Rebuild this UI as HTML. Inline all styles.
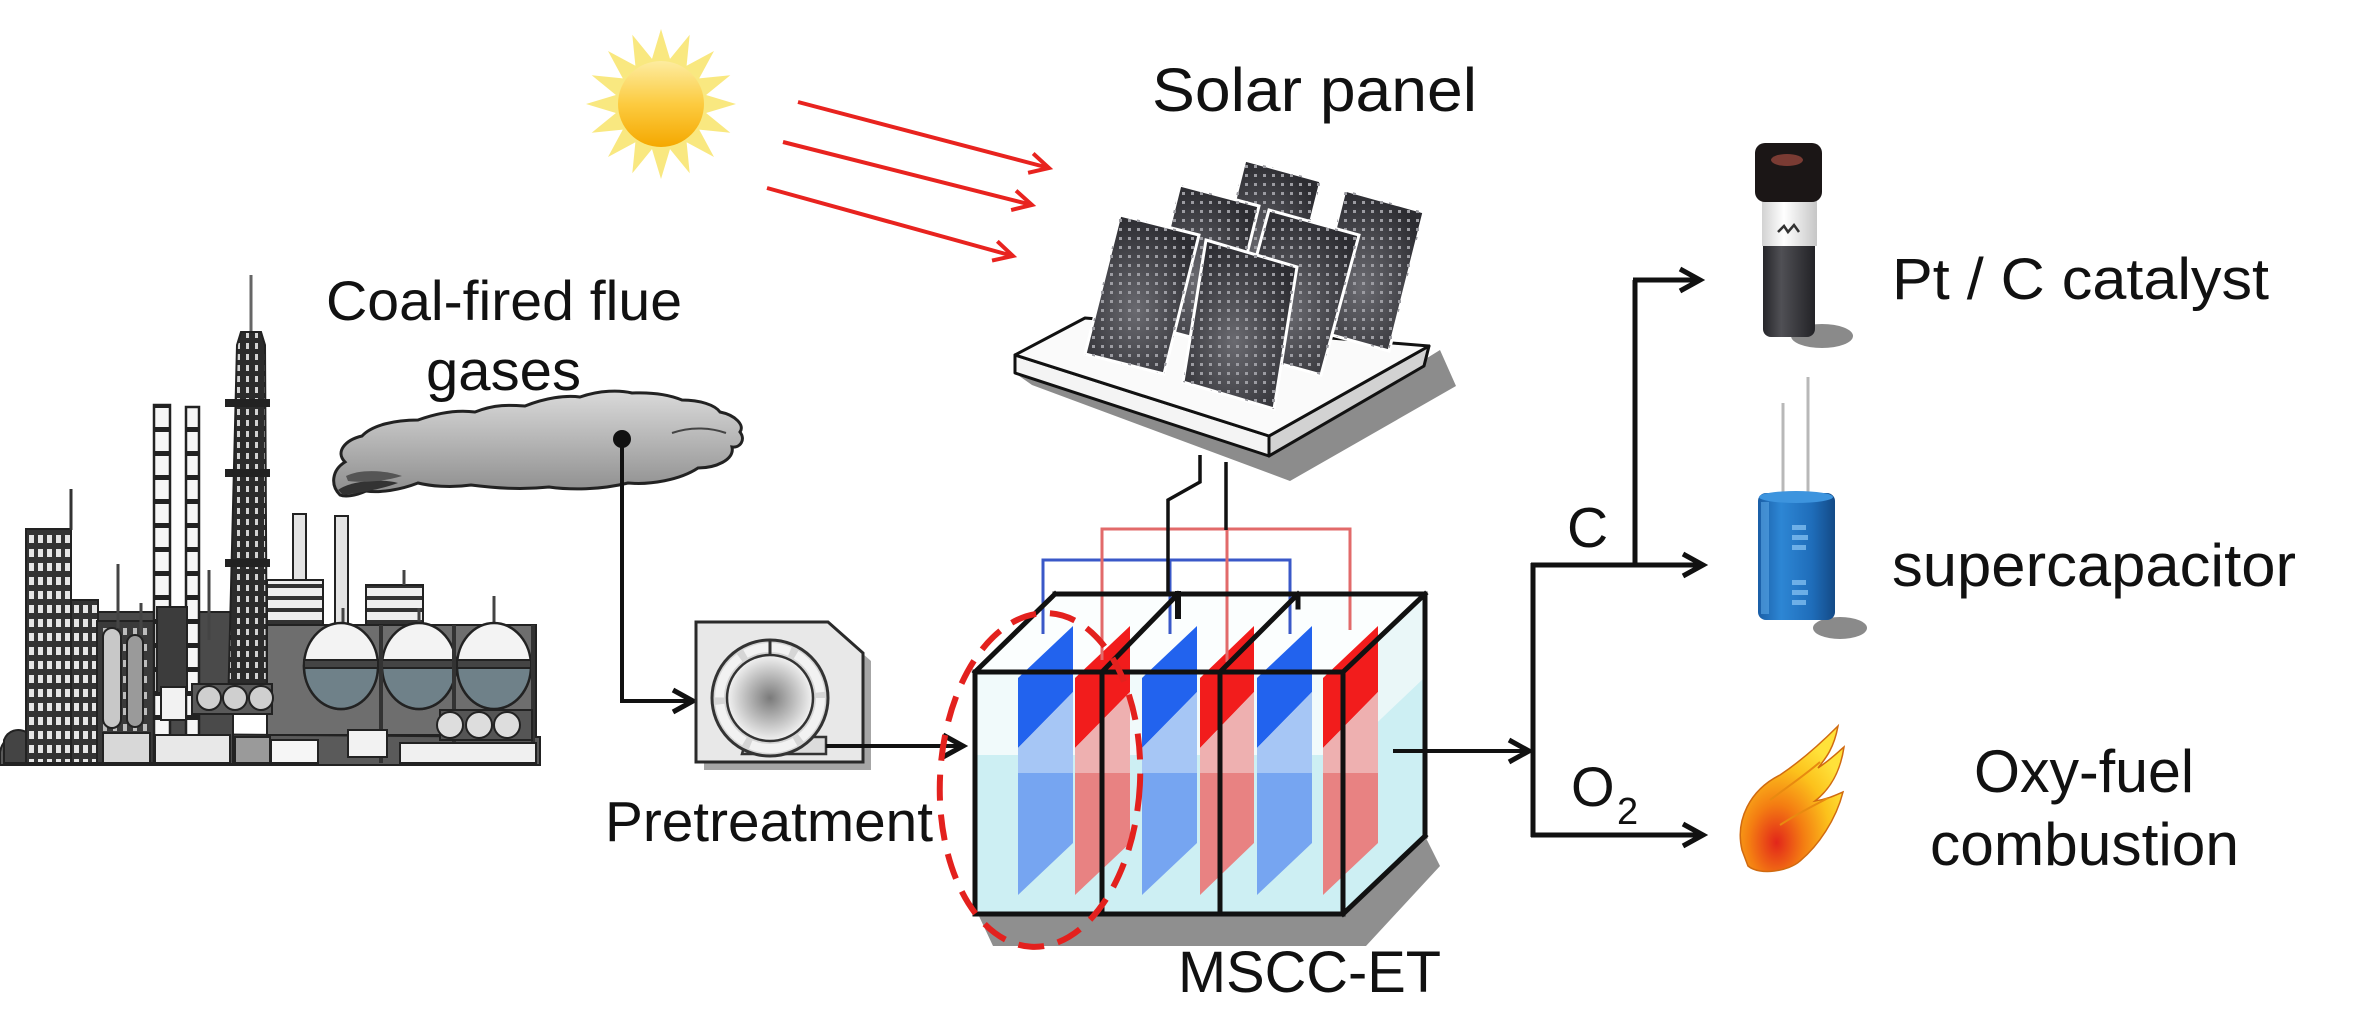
<!DOCTYPE html>
<html><head><meta charset="utf-8"><style>
html,body{margin:0;padding:0;background:#fff;}
svg{display:block;}
text{font-family:"Liberation Sans",Arial,sans-serif;fill:#111;}
</style></head><body>
<svg width="2361" height="1025" viewBox="0 0 2361 1025" xmlns="http://www.w3.org/2000/svg">
<defs>
  <marker id="arB" markerUnits="userSpaceOnUse" markerWidth="30" markerHeight="30" viewBox="0 0 30 30" refX="24" refY="15" orient="auto">
    <path d="M4,4 L24,15 L4,26" fill="none" stroke="#111" stroke-width="5"/>
  </marker>
  <marker id="arR" markerUnits="userSpaceOnUse" markerWidth="30" markerHeight="30" viewBox="0 0 30 30" refX="24" refY="15" orient="auto">
    <path d="M5,5 L24,15 L5,25" fill="none" stroke="#e8231f" stroke-width="4"/>
  </marker>
  <linearGradient id="sunG" x1="0" y1="0" x2="0" y2="1">
    <stop offset="0" stop-color="#fdeca0"/><stop offset="0.5" stop-color="#fccb40"/><stop offset="1" stop-color="#f5a800"/>
  </linearGradient>
  <linearGradient id="cloudG" x1="0" y1="0" x2="0" y2="1">
    <stop offset="0" stop-color="#dadada"/><stop offset="1" stop-color="#8c8c8c"/>
  </linearGradient>
  <radialGradient id="pumpG" cx="0.5" cy="0.5" r="0.5">
    <stop offset="0" stop-color="#7a7a7a"/><stop offset="1" stop-color="#f2f2f2"/>
  </radialGradient>
  <radialGradient id="panelG" cx="0.45" cy="0.6" r="0.6">
    <stop offset="0" stop-color="#6a6a70"/><stop offset="1" stop-color="#2c2c31"/>
  </radialGradient>
  <pattern id="pdots" width="9" height="9" patternUnits="userSpaceOnUse">
    <rect x="3" y="3" width="3" height="3" fill="#9c9ca2"/>
  </pattern>
  <pattern id="win" width="9" height="14" patternUnits="userSpaceOnUse">
    <rect width="9" height="14" fill="#343434"/><rect x="2" y="3" width="5" height="8" fill="#e6e6e6"/>
  </pattern>
  <pattern id="win2" width="10" height="16" patternUnits="userSpaceOnUse">
    <rect width="10" height="16" fill="#3a3a3a"/><rect x="3" y="4" width="4" height="7" fill="#bdbdbd"/>
  </pattern>
  <pattern id="dash" width="9" height="11" patternUnits="userSpaceOnUse">
    <rect width="9" height="11" fill="#2c2c2c"/><rect x="3" y="2" width="3" height="6" fill="#d4d4d4"/>
  </pattern>
  <pattern id="band" width="20" height="24" patternUnits="userSpaceOnUse">
    <rect width="20" height="24" fill="#f6f6f6"/><rect y="19" width="20" height="5" fill="#222"/>
  </pattern>
  <pattern id="band2" width="20" height="12" patternUnits="userSpaceOnUse">
    <rect width="20" height="12" fill="#efefef"/><rect y="8" width="20" height="4" fill="#333"/>
  </pattern>
  <linearGradient id="vialP" x1="0" y1="0" x2="1" y2="0">
    <stop offset="0" stop-color="#26262a"/><stop offset="0.35" stop-color="#505055"/><stop offset="1" stop-color="#222226"/>
  </linearGradient>
  <linearGradient id="vialG" x1="0" y1="0" x2="1" y2="0">
    <stop offset="0" stop-color="#d2d2d2"/><stop offset="0.4" stop-color="#ffffff"/><stop offset="1" stop-color="#c6c6c6"/>
  </linearGradient>
  <linearGradient id="capG" x1="0" y1="0" x2="1" y2="0">
    <stop offset="0" stop-color="#1a5ea6"/><stop offset="0.3" stop-color="#2d86d4"/><stop offset="0.7" stop-color="#1f6dba"/><stop offset="1" stop-color="#134a86"/>
  </linearGradient>
  <radialGradient id="flameG" cx="0.35" cy="0.8" r="0.75">
    <stop offset="0" stop-color="#e2261a"/><stop offset="0.35" stop-color="#f47d12"/><stop offset="0.7" stop-color="#fcc21c"/><stop offset="1" stop-color="#ffe23a"/>
  </radialGradient>
</defs>

<!-- ===== SUN ===== -->
<g transform="translate(661,104)">
  <polygon fill="#f8e46a" opacity="0.85" points="75,0 45.1,9 69.3,28.7 38.2,25.6 53,53 25.6,38.2 28.7,69.3 9,45.1 0,75 -9,45.1 -28.7,69.3 -25.6,38.2 -53,53 -38.2,25.6 -69.3,28.7 -45.1,9 -75,0 -45.1,-9 -69.3,-28.7 -38.2,-25.6 -53,-53 -25.6,-38.2 -28.7,-69.3 -9,-45.1 0,-75 9,-45.1 28.7,-69.3 25.6,-38.2 53,-53 38.2,-25.6 69.3,-28.7 45.1,-9"/>
  <circle r="43" fill="url(#sunG)"/>
</g>

<!-- ===== SUN RAYS ===== -->
<line x1="798" y1="102" x2="1049" y2="168" stroke="#e8231f" stroke-width="4" marker-end="url(#arR)"/>
<line x1="783" y1="142" x2="1032" y2="205" stroke="#e8231f" stroke-width="4" marker-end="url(#arR)"/>
<line x1="767" y1="188" x2="1013" y2="256" stroke="#e8231f" stroke-width="4" marker-end="url(#arR)"/>

<!-- ===== SOLAR PANEL ===== -->
<text x="1152" y="111" font-size="61" textLength="325" lengthAdjust="spacingAndGlyphs">Solar panel</text>
<polygon points="1032,385 1290,481 1456,386 1440,350 1269,456 1015,373" fill="#8c8c8c"/>
<polygon points="1015,355 1269,436 1269,456 1015,373" fill="#f4f4f4" stroke="#111" stroke-width="3" stroke-linejoin="round"/>
<polygon points="1269,436 1429,346 1424,366 1269,456" fill="#d2d2d2" stroke="#111" stroke-width="3" stroke-linejoin="round"/>
<polygon points="1015,355 1085,318 1429,346 1269,436" fill="#fafafa" stroke="#111" stroke-width="3" stroke-linejoin="round"/>
<g stroke="#fff" stroke-width="3">
  <polygon points="1245,160 1321,181 1286,320 1210,299" fill="url(#panelG)"/>
  <polygon points="1245,160 1321,181 1286,320 1210,299" fill="url(#pdots)" stroke="none"/>
  <polygon points="1345,190 1424,212 1389,351 1310,329" fill="url(#panelG)"/>
  <polygon points="1345,190 1424,212 1389,351 1310,329" fill="url(#pdots)" stroke="none"/>
  <polygon points="1180,185 1259,206 1224,346 1145,325" fill="url(#panelG)"/>
  <polygon points="1180,185 1259,206 1224,346 1145,325" fill="url(#pdots)" stroke="none"/>
  <polygon points="1269,210 1359,235 1321,375 1231,350" fill="url(#panelG)"/>
  <polygon points="1269,210 1359,235 1321,375 1231,350" fill="url(#pdots)" stroke="none"/>
  <polygon points="1120,215 1199,235 1164,374 1085,354" fill="url(#panelG)"/>
  <polygon points="1120,215 1199,235 1164,374 1085,354" fill="url(#pdots)" stroke="none"/>
  <polygon points="1206,240 1297,267 1274,409 1183,382" fill="url(#panelG)"/>
  <polygon points="1206,240 1297,267 1274,409 1183,382" fill="url(#pdots)" stroke="none"/>
</g>

<!-- ===== COAL-FIRED TEXT + CLOUD ===== -->
<text x="326" y="320" font-size="56" textLength="356" lengthAdjust="spacingAndGlyphs">Coal-fired flue</text>
<text x="426" y="390" font-size="57" textLength="155" lengthAdjust="spacingAndGlyphs">gases</text>
<path d="M340,495 C330,485 332,470 345,462 C335,452 345,440 362,436 C372,425 395,420 418,420 C440,412 460,410 475,412 C495,404 510,405 525,406 C545,398 565,395 580,397 C600,390 620,390 632,393 C655,392 670,395 682,400 C700,400 715,405 720,412 C735,415 745,425 740,432 C746,440 740,448 732,447 C735,460 715,468 698,468 C680,480 650,485 628,483 C600,490 570,490 549,487 C520,490 495,488 471,485 C450,488 430,486 418,483 C400,490 380,493 366,491 C355,496 345,497 340,495 Z" fill="url(#cloudG)" stroke="#222" stroke-width="3"/>
<path d="M338,490 C350,481 380,478 398,483 C382,489 360,493 343,495 Z" fill="#333"/>
<path d="M346,476 C360,469 385,470 402,476 C386,481 365,483 348,481 Z" fill="#555"/>
<path d="M672,433 C692,426 712,428 726,433" fill="none" stroke="#444" stroke-width="2"/>
<circle cx="622" cy="439" r="9" fill="#111"/>
<path d="M622,439 L622,701 L693,701" fill="none" stroke="#111" stroke-width="4" marker-end="url(#arB)"/>

<!-- ===== FACTORY ===== -->
<g stroke="#222" stroke-width="2">
  <path d="M0,752 C2,740 12,733 25,733 L540,737 L540,765 L0,765 Z" fill="#5a5a5a"/>
  <!-- dark background mass -->
  <rect x="68" y="612" width="165" height="152" fill="#4a4a4a"/>
  <rect x="26" y="529" width="45" height="234" fill="url(#win)"/>
  <line x1="71" y1="489" x2="71" y2="530" stroke="#333" stroke-width="3"/>
  <rect x="71" y="600" width="27" height="163" fill="url(#win)"/>
  <rect x="97" y="621" width="62" height="142" fill="url(#win2)"/>
  <rect x="103" y="628" width="18" height="100" rx="9" fill="#c8c8c8"/>
  <rect x="127" y="635" width="16" height="92" rx="8" fill="#9a9a9a"/>
  <line x1="118" y1="564" x2="118" y2="628" stroke="#444" stroke-width="3"/>
  <line x1="141" y1="603" x2="141" y2="635" stroke="#444" stroke-width="3"/>
  <rect x="103" y="733" width="47" height="30" fill="#d8d8d8"/>
  <rect x="154" y="405" width="16" height="358" fill="url(#band)" stroke-width="2.5"/>
  <rect x="186" y="407" width="13" height="356" fill="url(#band)" stroke-width="2.5"/>
  <line x1="209" y1="570" x2="209" y2="640" stroke="#444" stroke-width="3"/>
  <rect x="157" y="607" width="30" height="86" fill="#3c3c3c"/>
  <rect x="161" y="687" width="25" height="33" fill="#f2f2f2"/>
  <line x1="251" y1="275" x2="251" y2="333" stroke="#666" stroke-width="3"/>
  <path d="M237,345 L241,332 L261,332 L265,345 L267,710 L228,710 Z" fill="url(#dash)"/>
  <rect x="226" y="400" width="43" height="6" fill="#222"/>
  <rect x="226" y="470" width="43" height="6" fill="#222"/>
  <rect x="226" y="560" width="43" height="6" fill="#222"/>
  <rect x="293" y="514" width="13" height="70" fill="#e4e4e4"/>
  <rect x="335" y="516" width="13" height="113" fill="#e4e4e4"/>
  <rect x="267" y="580" width="56" height="45" fill="url(#band2)"/>
  <rect x="366" y="585" width="57" height="42" fill="url(#band2)"/>
  <line x1="404" y1="570" x2="404" y2="585" stroke="#444" stroke-width="3"/>
  <rect x="267" y="625" width="269" height="110" fill="#6e6e6e"/>
  <rect x="192" y="684" width="80" height="30" fill="#5a5a5a"/>
  <circle cx="209" cy="698" r="12" fill="#cfcfcf"/>
  <circle cx="235" cy="698" r="12" fill="#cfcfcf"/>
  <circle cx="261" cy="698" r="12" fill="#cfcfcf"/>
  <line x1="343" y1="608" x2="343" y2="622" stroke="#444" stroke-width="3"/>
  <line x1="419" y1="608" x2="419" y2="622" stroke="#444" stroke-width="3"/>
  <line x1="494" y1="596" x2="494" y2="622" stroke="#444" stroke-width="3"/>
  <ellipse cx="341" cy="666" rx="37" ry="43" fill="#f3f3f3" stroke-width="2.5"/>
  <path d="M304,666 A37,43 0 0 0 378,666 Z" fill="#6f8189" stroke-width="2.5"/>
  <rect x="304" y="660" width="74" height="8" fill="#444"/>
  <ellipse cx="419" cy="666" rx="37" ry="43" fill="#f3f3f3" stroke-width="2.5"/>
  <path d="M382,666 A37,43 0 0 0 456,666 Z" fill="#6f8189" stroke-width="2.5"/>
  <rect x="382" y="660" width="74" height="8" fill="#444"/>
  <ellipse cx="494" cy="666" rx="37" ry="43" fill="#f3f3f3" stroke-width="2.5"/>
  <path d="M457,666 A37,43 0 0 0 531,666 Z" fill="#6f8189" stroke-width="2.5"/>
  <rect x="457" y="660" width="74" height="8" fill="#444"/>
  <line x1="381" y1="625" x2="381" y2="763" stroke="#333" stroke-width="4"/>
  <line x1="454" y1="625" x2="454" y2="763" stroke="#333" stroke-width="4"/>
  <line x1="533" y1="625" x2="533" y2="763" stroke="#333" stroke-width="4"/>
  <rect x="440" y="710" width="92" height="30" fill="#555"/>
  <circle cx="450" cy="725" r="13" fill="#ddd"/>
  <circle cx="479" cy="725" r="13" fill="#ddd"/>
  <circle cx="507" cy="725" r="13" fill="#ddd"/>
  <rect x="155" y="735" width="75" height="28" fill="#e8e8e8"/>
  <rect x="235" y="737" width="35" height="26" fill="#9a9a9a"/>
  <rect x="271" y="740" width="47" height="23" fill="#f6f6f6"/>
  <rect x="348" y="730" width="39" height="27" fill="#f2f2f2"/>
  <rect x="400" y="743" width="136" height="20" fill="#f0f0f0"/>
  <path d="M4,763 L4,740 C8,730 18,728 26,732 L26,763 Z" fill="#444"/>
</g>

<!-- ===== PRETREATMENT ===== -->
<path d="M704,630 L836,630 L871,661 L871,770 L704,770 Z" fill="#a6a6a6"/>
<path d="M696,622 L828,622 L863,653 L863,762 L696,762 Z" fill="#e8e8e8" stroke="#2a2a2a" stroke-width="3"/>
<path d="M747,737 L826,737 L826,754 L742,754 Z" fill="#dcdcdc" stroke="#333" stroke-width="2.5"/>
<circle cx="770" cy="698" r="58" fill="#d6d6d6" stroke="#333" stroke-width="3"/>
<circle cx="770" cy="698" r="50.5" fill="none" stroke="#f2f2f2" stroke-width="9" stroke-dasharray="46 7"/>
<circle cx="770" cy="698" r="43" fill="url(#pumpG)" stroke="#333" stroke-width="2.5"/>
<line x1="770" y1="640" x2="770" y2="655" stroke="#333" stroke-width="3"/>
<line x1="826" y1="746" x2="963" y2="746" stroke="#111" stroke-width="4" marker-end="url(#arB)"/>
<text x="605" y="841" font-size="57" textLength="328" lengthAdjust="spacingAndGlyphs">Pretreatment</text>

<!-- ===== TANK ===== -->
<polygon points="993,946 1366,946 1440,866 1425,836 1343,914 978,914" fill="#8f8f8f"/>
<polygon points="975,672 1055,594 1425,594 1343,672" fill="#fbfefe"/>
<rect x="975" y="672" width="368" height="84" fill="#f1fafb"/>
<polygon points="1343,672 1425,594 1425,677 1343,755" fill="#eaf7f8"/>
<polygon points="975,755 1343,755 1425,677 1425,836 1343,914 975,914" fill="#cdeff3"/>

<!-- plates -->
<g>
  <polygon points="1018,678 1073,626 1073,692 1018,748" fill="#2263ee"/>
  <polygon points="1018,748 1073,692 1073,773 1018,773" fill="#a6c6f5"/>
  <polygon points="1018,773 1073,773 1073,843 1018,895" fill="#76a5f1"/>
  <polygon points="1075,678 1130,626 1130,692 1075,748" fill="#f21c1c"/>
  <polygon points="1075,748 1130,692 1130,773 1075,773" fill="#eeb0b0"/>
  <polygon points="1075,773 1130,773 1130,843 1075,895" fill="#e88282"/>
  <polygon points="1142,678 1197,626 1197,692 1142,748" fill="#2263ee"/>
  <polygon points="1142,748 1197,692 1197,773 1142,773" fill="#a6c6f5"/>
  <polygon points="1142,773 1197,773 1197,843 1142,895" fill="#76a5f1"/>
  <polygon points="1200,678 1254,626 1254,692 1200,748" fill="#f21c1c"/>
  <polygon points="1200,748 1254,692 1254,773 1200,773" fill="#eeb0b0"/>
  <polygon points="1200,773 1254,773 1254,843 1200,895" fill="#e88282"/>
  <polygon points="1257,678 1312,626 1312,692 1257,748" fill="#2263ee"/>
  <polygon points="1257,748 1312,692 1312,773 1257,773" fill="#a6c6f5"/>
  <polygon points="1257,773 1312,773 1312,843 1257,895" fill="#76a5f1"/>
  <polygon points="1323,678 1378,626 1378,692 1323,748" fill="#f21c1c"/>
  <polygon points="1323,748 1378,692 1378,773 1323,773" fill="#eeb0b0"/>
  <polygon points="1323,773 1378,773 1378,843 1323,895" fill="#e88282"/>
</g>

<!-- wires -->
<path d="M1043,634 L1043,560 L1290,560 L1290,634" fill="none" stroke="#3a58c8" stroke-width="3"/>
<path d="M1170,560 L1170,634" fill="none" stroke="#3a58c8" stroke-width="3"/>
<path d="M1102,660 L1102,529 L1350,529 L1350,630" fill="none" stroke="#e26a6a" stroke-width="3"/>
<path d="M1227,529 L1227,662" fill="none" stroke="#e26a6a" stroke-width="3"/>
<path d="M1200,455 L1200,482 L1168,500 L1168,594" fill="none" stroke="#111" stroke-width="3.5"/>
<path d="M1226,462 L1226,530" fill="none" stroke="#111" stroke-width="3.5"/>

<!-- frame -->
<g fill="none" stroke="#111" stroke-width="5" stroke-linecap="square" stroke-linejoin="miter">
  <path d="M975,672 H1343 V914 H975 Z"/>
  <path d="M1055,594 H1425 V836"/>
  <path d="M975,672 L1055,594"/>
  <path d="M1343,672 L1425,594"/>
  <path d="M1343,914 L1425,836"/>
  <path d="M1102,672 V914"/>
  <path d="M1220,672 V914"/>
  <path d="M1102,672 L1178,594"/>
  <path d="M1220,672 L1298,594"/>
  <path d="M1178,594 V616" stroke-width="6"/>
  <path d="M1298,594 V607"/>
</g>

<ellipse cx="1040" cy="780" rx="100" ry="167" transform="rotate(3 1040 780)" fill="none" stroke="#e3211e" stroke-width="6" stroke-dasharray="26 14"/>

<text x="1178" y="992" font-size="58" textLength="263" lengthAdjust="spacingAndGlyphs">MSCC-ET</text>

<!-- ===== OUTPUT CONNECTORS ===== -->
<line x1="1393" y1="751" x2="1529" y2="751" stroke="#111" stroke-width="4" marker-end="url(#arB)"/>
<path d="M1533,563 V837" fill="none" stroke="#111" stroke-width="5"/>
<line x1="1531" y1="565" x2="1703" y2="565" stroke="#111" stroke-width="5" marker-end="url(#arB)"/>
<path d="M1635,567 V280" fill="none" stroke="#111" stroke-width="5"/>
<line x1="1633" y1="280" x2="1700" y2="280" stroke="#111" stroke-width="5" marker-end="url(#arB)"/>
<line x1="1531" y1="835" x2="1703" y2="835" stroke="#111" stroke-width="5" marker-end="url(#arB)"/>
<text x="1567" y="547" font-size="57">C</text>
<text x="1571" y="806" font-size="56">O</text>
<text x="1617" y="824" font-size="38">2</text>

<!-- ===== VIAL ===== -->
<ellipse cx="1822" cy="336" rx="31" ry="12" fill="#8a8a8a"/>
<rect x="1763" y="236" width="52" height="101" rx="8" fill="url(#vialP)"/>
<rect x="1762" y="198" width="55" height="48" fill="url(#vialG)"/>
<path d="M1778,232 l6,-6 l4,6 l6,-7 l5,7" fill="none" stroke="#333" stroke-width="2.5"/>
<rect x="1755" y="143" width="67" height="59" rx="10" fill="#1b1616"/>
<ellipse cx="1787" cy="160" rx="16" ry="6" fill="#7a3b33"/>

<!-- ===== CAPACITOR ===== -->
<line x1="1783" y1="403" x2="1783" y2="497" stroke="#b8b8b8" stroke-width="3"/>
<line x1="1808" y1="377" x2="1808" y2="497" stroke="#b8b8b8" stroke-width="3"/>
<ellipse cx="1840" cy="628" rx="27" ry="11" fill="#8a8a8a"/>
<rect x="1758" y="493" width="77" height="127" rx="8" fill="url(#capG)"/>
<ellipse cx="1796" cy="497" rx="37" ry="6" fill="#3d94de"/>
<rect x="1761" y="502" width="8" height="112" fill="#5aa6e6" opacity="0.6"/>
<g fill="#7fbdf0" opacity="0.8">
  <rect x="1792" y="525" width="14" height="5"/><rect x="1792" y="535" width="16" height="5"/><rect x="1792" y="545" width="14" height="5"/>
  <rect x="1792" y="580" width="14" height="5"/><rect x="1792" y="590" width="16" height="5"/><rect x="1792" y="600" width="14" height="5"/>
</g>

<!-- ===== FLAME ===== -->
<path d="M1742,850 C1735,820 1750,790 1780,775 C1795,765 1812,752 1838,726 C1834,748 1826,758 1818,768 C1830,760 1838,752 1844,747 C1840,774 1829,790 1815,801 C1828,799 1836,795 1843,792 C1836,820 1818,846 1800,861 C1789,871 1760,876 1748,866 Z" fill="url(#flameG)" stroke="#d06a10" stroke-width="1.5"/>
<path d="M1770,800 C1790,785 1805,775 1820,762 M1780,825 C1800,812 1815,805 1828,798" fill="none" stroke="#e88a10" stroke-width="2"/>

<!-- ===== RIGHT LABELS ===== -->
<text x="1892" y="299" font-size="58" textLength="377" lengthAdjust="spacingAndGlyphs">Pt / C catalyst</text>
<text x="1892" y="586" font-size="60" textLength="404" lengthAdjust="spacingAndGlyphs">supercapacitor</text>
<text x="1974" y="792" font-size="60" textLength="220" lengthAdjust="spacingAndGlyphs">Oxy-fuel</text>
<text x="1930" y="865" font-size="60" textLength="309" lengthAdjust="spacingAndGlyphs">combustion</text>
</svg>
</body></html>
